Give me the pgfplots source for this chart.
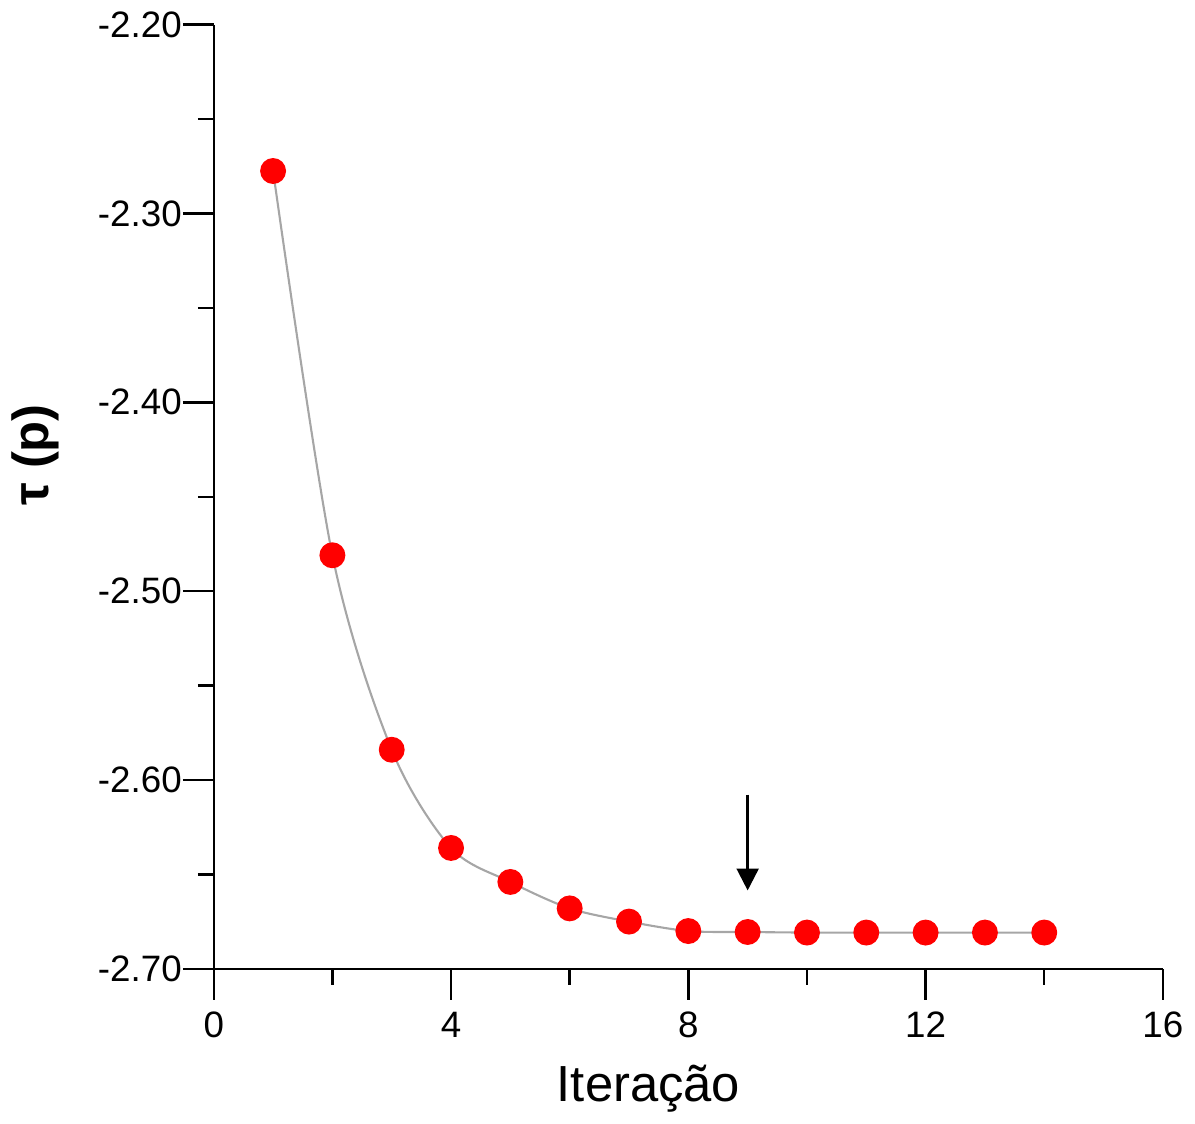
\documentclass[border=0pt]{standalone}
\usepackage{pgfplots}
\pgfplotsset{compat=1.18}
\usepackage{fontspec}
\setmainfont{Liberation Sans}
\usetikzlibrary{arrows.meta}

\begin{document}
\begin{tikzpicture}
\begin{axis}[
  scale only axis,
  width=95.3mm, height=94.8mm,
  xmin=0, xmax=16, ymin=-2.70, ymax=-2.20,
  axis x line=bottom, axis y line=left,
  axis line style={-, line width=0.7pt},
  xtick={0,4,...,16}, minor x tick num=1,
  ytick={-2.7,-2.6,...,-2.15}, minor y tick num=1,
  tick align=outside,
  major tick length=3.1mm, minor tick length=1.6mm,
  every tick/.style={black, line width=0.7pt},
  /pgf/number format/assume math mode=true,
  y tick label style={/pgf/number format/fixed, /pgf/number format/fixed zerofill, /pgf/number format/precision=2, xshift=3.2pt},
  ticklabel style={font=\fontsize{10.5}{12}\selectfont},
  x tick label style={yshift=0mm},
  xlabel={Iteração},
  xlabel style={font=\fontsize{14.5}{16}\selectfont, yshift=-0.3mm, xshift=-4mm},
  ylabel={τ (p)},
  ylabel style={font=\fontsize{14.5}{16}\selectfont\bfseries, yshift=1.5mm, xshift=4.2mm},
  clip=false,
]
\addplot[smooth, gray!70, line width=0.6pt,
  mark=*, mark size=3.4pt, mark options={fill=red, draw=red}]
coordinates {
  (1,-2.2775) (2,-2.481) (3,-2.584) (4,-2.636) (5,-2.654)
  (6,-2.668) (7,-2.675) (8,-2.680) (9,-2.6805) (10,-2.6808)
  (11,-2.6808) (12,-2.6808) (13,-2.6808) (14,-2.6808)
};
\draw[line width=0.7pt, -{Triangle[length=2.2mm, width=2.2mm]}]
  (axis cs:9,-2.6077) -- (axis cs:9,-2.6585);
\end{axis}
\end{tikzpicture}
\end{document}
